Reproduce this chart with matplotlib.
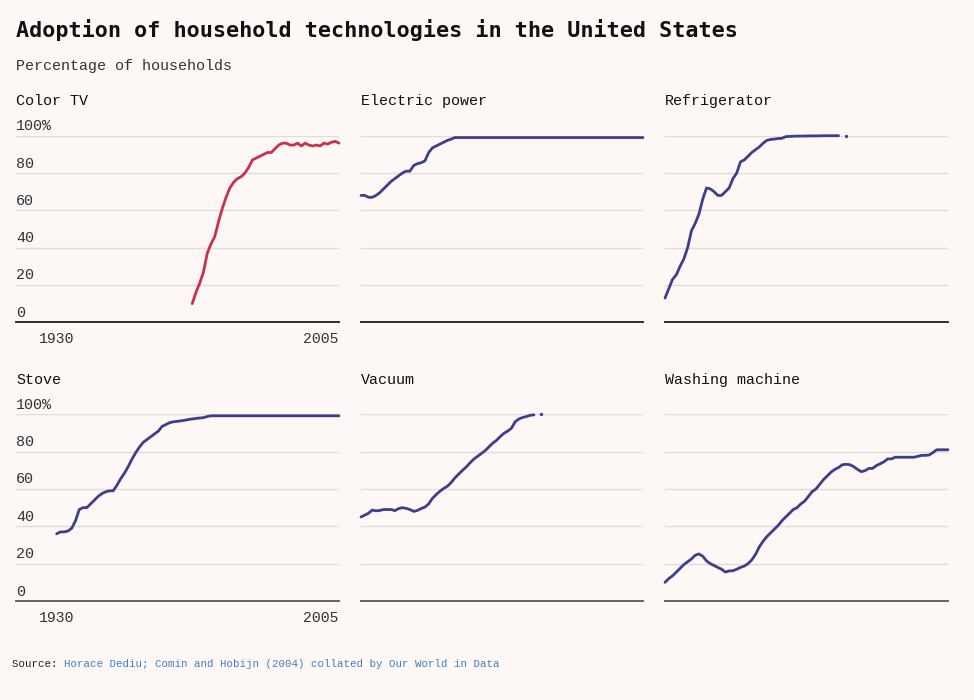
import numpy as np
import matplotlib
matplotlib.use("Agg")
import matplotlib.pyplot as plt
from matplotlib.transforms import offset_copy

# ---------------- data ----------------
color_tv_years = list(range(1966, 2006))
color_tv = [10, 16, 21, 27, 37, 42, 46, 54, 61, 67, 72, 75, 77, 78, 80, 83, 87, 88,
            89, 90, 91, 91, 93, 95, 96, 96, 95, 95, 96, 94.5, 96, 95, 94.5, 95, 94.5,
            96, 95.5, 96.5, 97, 96]

electric_years = list(range(1930, 2006))
electric = [68, 68, 67, 67, 68, 69.5, 71.5, 73.5, 75.5, 77, 78.5, 80, 81, 81, 84, 85,
            85.5, 86.5, 91, 93.5, 94.5, 95.5, 96.5, 97.5, 98.2, 99] + [99] * 50

fridge_years = list(range(1930, 1979))
fridge = [13, 18, 23, 25.5, 30, 34, 40, 49, 53, 58, 66, 72, 71.5, 70, 68, 68, 70, 72,
          77, 80, 86, 87, 89, 91, 92.5, 94, 96, 97.5, 98, 98.2, 98.5, 98.6, 99.5, 99.6,
          99.7, 99.8, 99.8, 99.8, 99.9, 99.9, 99.9, 99.9, 100, 100, 100, 100, 100,
          np.nan, 99.8]

stove_years = list(range(1930, 2006))
stove = [36, 37, 37, 37.5, 39, 43, 49, 50, 50, 52, 54, 56, 57.5, 58.5, 59, 59, 62, 65.5,
         68.5, 72, 76, 79.5, 82.5, 85, 86.5, 88, 89.5, 91, 93.5, 94.5, 95.5, 96, 96.2,
         96.5, 96.8, 97.2, 97.5, 97.8, 98, 98.2, 98.8, 99.2] + [99.2] * 34

vacuum_years = list(range(1930, 1979))
vacuum = [45, 46, 47, 48.7, 48.3, 48.5, 49, 49, 49, 48.4, 49.5, 50, 49.6, 49, 48, 48.5,
          49.5, 50.3, 52, 55, 57, 58.8, 60.3, 61.5, 63.5, 66, 68, 70, 71.8, 74, 76, 77.5,
          79, 80.5, 82.5, 84.5, 86, 88, 89.8, 91, 92.5, 96, 97.5, 98.3, 98.8, 99.5, 99.7,
          np.nan, 100]

washer_years = list(range(1930, 2006))
washer = [10, 12, 13.5, 15.5, 17.5, 19.5, 21, 22.5, 24.5, 25.2, 24, 21.5, 20, 19, 18, 17,
          15.5, 16.1, 16.2, 17, 18, 18.7, 20, 22, 25, 29, 32, 34.5, 36.5, 38.5, 40.5, 43,
          45, 47, 49, 50, 52, 53.5, 56, 58.6, 60, 62.5, 65, 67, 69, 70.5, 71.5, 73, 73.2,
          73, 72, 70.5, 69.3, 69.8, 71, 71, 72.5, 73.5, 74.5, 76.1, 76.1, 77, 77, 77, 77,
          77, 77, 77.5, 78, 78, 78.2, 79.5, 81, 81, 81, 81]

titles = ["Color TV", "Electric power", "Refrigerator", "Stove", "Vacuum", "Washing machine"]
series_years = [color_tv_years, electric_years, fridge_years, stove_years, vacuum_years, washer_years]
series_vals = [color_tv, electric, fridge, stove, vacuum, washer]

y_ticks = [0, 20, 40, 60, 80, 100]
y_tick_labels = ["0", "20", "40", "60", "80", "100%"]
x_ticks = [1930, 2005]
x_tick_labels = ["1930", "2005"]

# ---------------- style ----------------
BG = "#fdf7f5"
RED = "#c9304a"
BLUE = "#3b3f8c"
GRID = "#e2dbd9"
LINK = "#3d82c2"
FONT = "Liberation Mono"
BOLD_FONT = "DejaVu Sans Mono"

W, H = 974, 700
fig = plt.figure(figsize=(W / 100, H / 100), dpi=100, facecolor=BG)

def px_axes(x0, x1, ytop, ybot):
    return fig.add_axes([x0 / W, 1 - ybot / H, (x1 - x0) / W, (ybot - ytop) / H])

cols = [(16, 339), (361, 643), (665, 948)]
rows = [(135.7, 322.3), (414.3, 601.0)]
base_colors = ["#1e1e1e", "#5c5654"]
title_y = [101, 380]

for i in range(6):
    r, c = divmod(i, 3)
    x0, x1 = cols[c]
    ytop, ybot = rows[r]
    ax = px_axes(x0, x1, ytop, ybot)
    ax.set_facecolor("none")
    if c == 0:
        # extra room on the left for the y labels: 1930 sits at pixel 56.7
        xmin = 1930 - (56.7 - 16) * 75 / (339 - 56.7)
    else:
        xmin = 1930
    ax.set_xlim(xmin, 2005)
    ax.set_ylim(0, 100)
    for s in ax.spines.values():
        s.set_visible(False)
    ax.set_yticks([])
    for yv in y_ticks[1:]:
        ax.axhline(yv, color=GRID, lw=1.0, zorder=1)
    ax.axhline(0, color=base_colors[r], lw=1.3, zorder=2, clip_on=False)

    yrs = np.array(series_years[i], dtype=float)
    vals = np.array(series_vals[i], dtype=float)
    col = RED if i == 0 else BLUE
    ax.plot(yrs, vals, color=col, lw=2.0, solid_capstyle="round",
            solid_joinstyle="round", zorder=3, clip_on=False)
    # isolated points (neighbours missing) drawn as dots
    for k in range(len(vals)):
        if np.isnan(vals[k]):
            continue
        left = k == 0 or np.isnan(vals[k - 1])
        right = k == len(vals) - 1 or np.isnan(vals[k + 1])
        if left and right:
            ax.plot([yrs[k]], [vals[k]], "o", color=col, ms=2.4, mew=0, zorder=3,
                    clip_on=False)

    if c == 0:
        tr = offset_copy(ax.get_yaxis_transform(), fig=fig, x=0, y=5.5, units="dots")
        for yv, lab in zip(y_ticks, y_tick_labels):
            ax.text(0, yv, lab, transform=tr, ha="left", va="baseline",
                    fontsize=10.8, family=FONT, color="#333333")
        ax.set_xticks(x_ticks)
        ax.set_xticklabels(x_tick_labels, fontsize=10.6, family=FONT, color="#333333")
        ax.tick_params(axis="x", length=0, pad=7)
        ax.get_xticklabels()[1].set_horizontalalignment("right")
    else:
        ax.set_xticks([])

    fig.text(x0 / W, 1 - title_y[r] / H, titles[i], ha="left", va="center",
             fontsize=10.8, family=FONT, color="#111111")

fig.text(16 / W, 1 - 30 / H, "Adoption of household technologies in the United States",
         ha="left", va="center", fontsize=15.7, fontweight="bold", family=BOLD_FONT,
         color="#111111")
fig.text(16 / W, 1 - 66 / H, "Percentage of households", ha="left", va="center",
         fontsize=10.8, family=FONT, color="#333333")

src_y = 1 - 664 / H
t1 = fig.text(12 / W, src_y, "Source: ", ha="left", va="center", fontsize=7.75,
              family=FONT, color="#222222")
fig.canvas.draw()
bb = t1.get_window_extent()
fig.text(bb.x1 / W, src_y, "Horace Dediu; Comin and Hobijn (2004) collated by Our World in Data",
         ha="left", va="center", fontsize=7.75, family=FONT, color=LINK)

fig.savefig("out.png", dpi=100, facecolor=BG)
